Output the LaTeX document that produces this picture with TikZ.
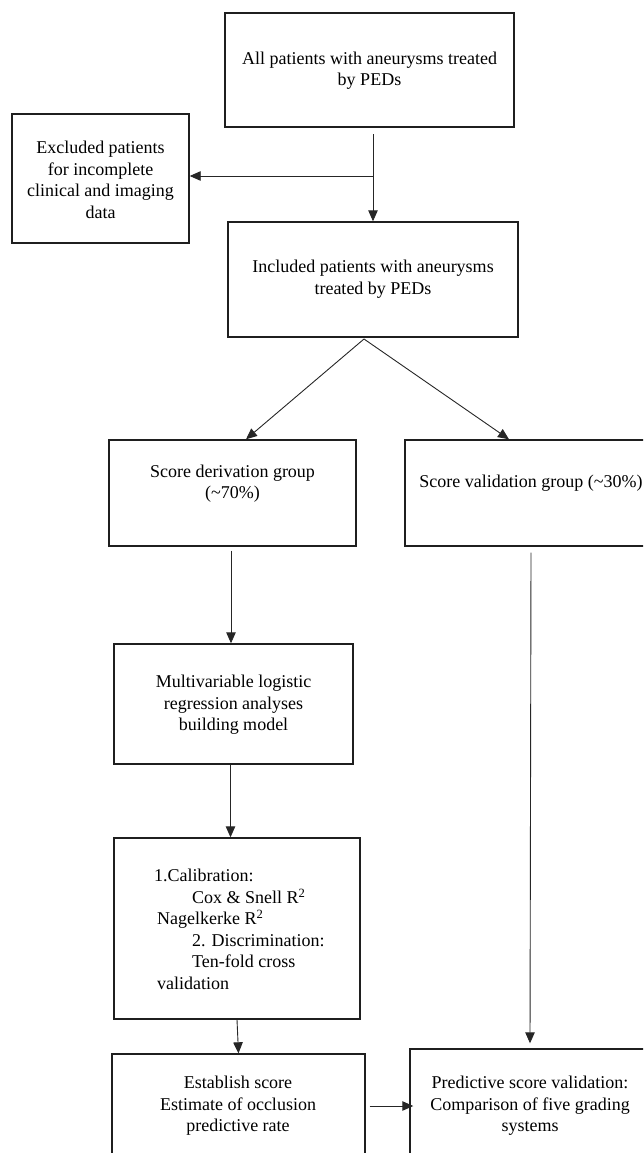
\documentclass[tikz,border=0pt]{standalone}
\usepackage{fontspec}
\setmainfont{Liberation Serif}
\usetikzlibrary{arrows.meta}
\begin{document}
\begin{tikzpicture}[x=1pt,y=-1pt,
  box/.style={draw=black!88, line width=1.4pt, inner sep=0pt, rectangle},
  txt/.style={font=\fontsize{18}{21.5}\selectfont, align=center, inner sep=0pt},
  arr/.style={draw=black!85, line width=0.9pt, -{Triangle[length=11pt,width=9.5pt]}}]
\useasboundingbox (0,0) rectangle (643,1153);
\clip (0,0) rectangle (643,1153);
% boxes
\node[box, minimum width=289pt, minimum height=114pt] (b1) at (369.5,70) {};
\node[box, minimum width=177pt, minimum height=129pt] (ex) at (100.5,178.5) {};
\node[box, minimum width=290pt, minimum height=115pt] (b2) at (373,279.5) {};
\node[box, minimum width=247pt, minimum height=106pt] (sd) at (232.5,493) {};
\node[box, minimum width=252pt, minimum height=106pt] (sv) at (531,493) {};
\node[box, minimum width=239pt, minimum height=120pt] (mv) at (233.5,704) {};
\node[box, minimum width=246pt, minimum height=181pt] (cal) at (237,928.5) {};
\node[box, minimum width=253pt, minimum height=104pt] (est) at (238.5,1106) {};
\node[box, minimum width=240pt, minimum height=114pt] (pv) at (530,1106) {};
% texts
\node[txt] (t1) at (369.5,70.5) {All patients with aneurysms treated\\by PEDs};
\node[txt] (tex) at (100.5,180) {Excluded patients\\for incomplete\\clinical and imaging\\data};
\node[txt] (t2) at (373,279) {Included patients with aneurysms\\treated by PEDs};
\node[txt] (tsd) at (232.5,483.5) {Score derivation group\\(\textasciitilde70\%)};
\node[txt] (tsv) at (531,483) {Score validation group (\textasciitilde30\%)};
\node[txt] (tmv) at (233.5,705) {Multivariable logistic\\regression analyses\\building model};
\node[txt, align=left, anchor=west] (tcal) at (154,929.5) {1.Calibration:\\\hspace*{38pt}Cox \& Snell R\textsuperscript{2}\\\hspace*{3pt}Nagelkerke R\textsuperscript{2}\\\hspace*{38pt}2. Discrimination:\\\hspace*{38pt}Ten-fold cross\\\hspace*{3pt}validation};
\node[txt] (test) at (238,1106) {Establish score\\Estimate of occlusion\\predictive rate};
\node[txt] (tpv) at (530,1106) {Predictive score validation:\\Comparison of five grading\\systems};
% connectors
\coordinate (s1) at (373,134);
\coordinate (j1) at (373,176);
\coordinate (apex) at (364,339);
\draw[arr] (s1) -- (b2.north);
\draw[arr] (j1) -- (ex.east |- j1);
\draw[arr] (apex) -- ([xshift=13.5pt]sd.north);
\draw[arr] (apex) -- ([xshift=-22pt]sv.north);
\draw[arr] ([xshift=-1.5pt,yshift=-4pt]sd.south) -- ([xshift=-1.5pt]sd.south |- mv.north);
\draw[arr] ([xshift=-3pt]mv.south) -- ([xshift=-3pt]mv.south |- cal.north);
\draw[arr] (cal.south) -- (est.north);
\draw[arr] ([yshift=-6pt]sv.south) -- ([yshift=5pt]pv.north);
\draw[arr] ([xshift=4pt]est.east) -- ([xshift=4pt]pv.west);
\end{tikzpicture}
\end{document}
